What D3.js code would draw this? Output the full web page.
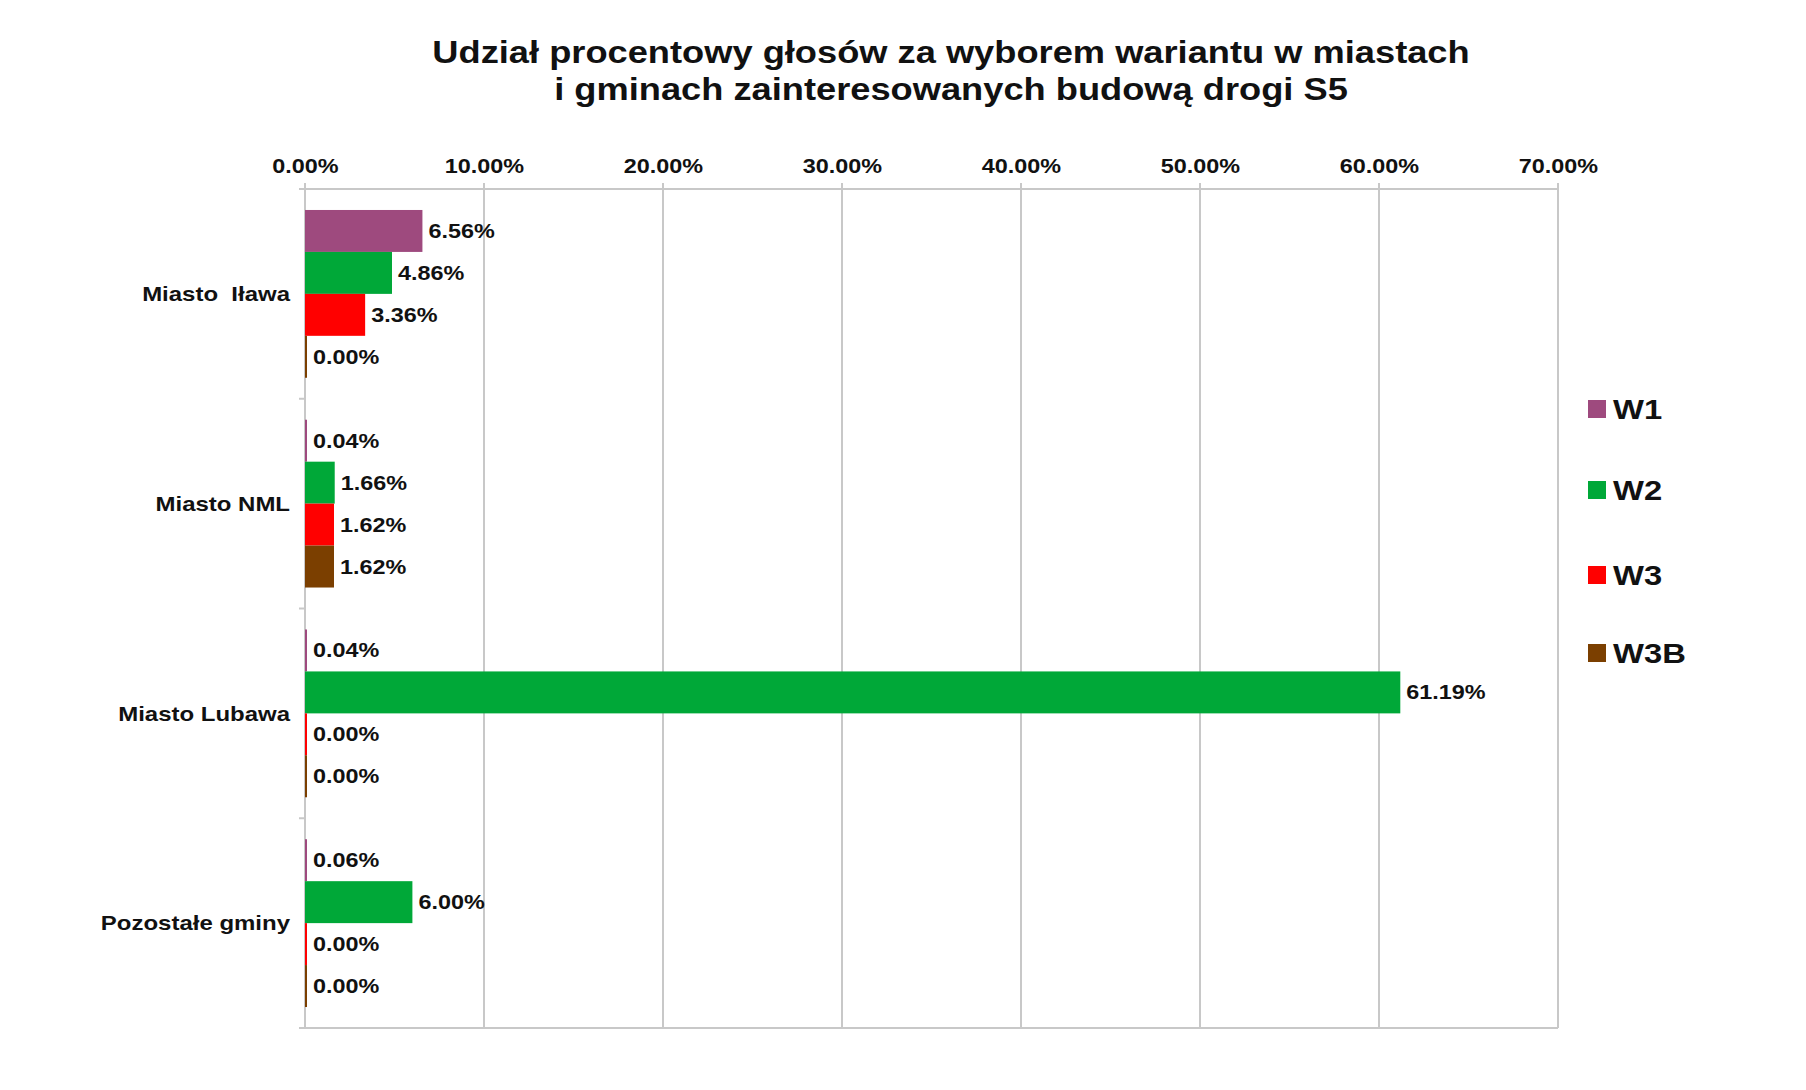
<!DOCTYPE html>
<html>
<head>
<meta charset="utf-8">
<script src="https://cdn.jsdelivr.net/npm/d3@7"></script>
<style>
  html, body { margin: 0; padding: 0; background: #fff; }
  svg { display: block; font-family: "Liberation Sans", Arial, sans-serif; }
</style>
</head>
<body>
<svg id="chart" width="1806" height="1090"></svg>
<script>
// ---- data ----
const titleLines = ["Udział procentowy głosów za wyborem wariantu w miastach", "i gminach zainteresowanych budową drogi S5"];
const categories = ["Miasto  Iława", "Miasto NML", "Miasto Lubawa", "Pozostałe gminy"];
const seriesNames = ["W1", "W2", "W3", "W3B"];
const seriesColors = ["#9E4A7E", "#00A838", "#FF0000", "#7B3F00"];
const W1 = [6.56, 0.04, 0.04, 0.06];
const W2 = [4.86, 1.66, 61.19, 6.00];
const W3 = [3.36, 1.62, 0.00, 0.00];
const W3B = [0.00, 1.62, 0.00, 0.00];
const xTicks = [0, 10, 20, 30, 40, 50, 60, 70];

const seriesValues = [W1, W2, W3, W3B];

// ---- layout ----
const SX = 1.17; // horizontal text stretch seen in the reference
const svg = d3.select("#chart");
const plot = { left: 305, right: 1558, top: 189, bottom: 1028 };

const x = d3.scaleLinear().domain([0, 70]).range([plot.left, plot.right]);
const y0 = d3.scaleBand().domain(categories).range([plot.top, plot.bottom]).paddingInner(0).paddingOuter(0);
const y1 = d3.scaleBand().domain(seriesNames).range([0, y0.bandwidth()]).paddingOuter(0.5).paddingInner(0);

const place = (px, py, sx = SX) => `translate(${px},${py}) scale(${sx},1)`;

// title
svg.append("g").selectAll("text").data(titleLines).join("text")
  .attr("transform", (d, i) => place(951, 63 + i * 37))
  .attr("text-anchor", "middle")
  .attr("font-size", 31).attr("font-weight", "bold").attr("fill", "#111")
  .text(d => d);

// gridlines
const grid = "#c8c8c8";
svg.append("g").selectAll("line").data(xTicks).join("line")
  .attr("x1", d => x(d)).attr("x2", d => x(d))
  .attr("y1", plot.top - 6).attr("y2", plot.bottom)
  .attr("stroke", grid).attr("stroke-width", 2);

// top axis line
svg.append("line").attr("x1", plot.left - 6).attr("x2", plot.right)
  .attr("y1", plot.top).attr("y2", plot.top).attr("stroke", grid).attr("stroke-width", 2);
// bottom axis line
svg.append("line").attr("x1", plot.left - 6).attr("x2", plot.right)
  .attr("y1", plot.bottom).attr("y2", plot.bottom).attr("stroke", grid).attr("stroke-width", 2);

// x axis tick labels (top)
const xAxis = d3.axisTop(x).tickValues(xTicks).tickSize(0).tickPadding(16)
  .tickFormat(d => d3.format(".2f")(d) + "%");
const gx = svg.append("g").attr("transform", `translate(0,${plot.top})`).call(xAxis);
gx.select(".domain").remove();
gx.selectAll("text").attr("font-size", 20).attr("font-weight", "bold").attr("fill", "#111")
  .attr("font-family", "Liberation Sans, Arial, sans-serif")
  .attr("transform", `scale(${SX},1)`);

// category axis
const boundaries = categories.map(c => y0(c)).concat([plot.bottom]);
svg.append("g").selectAll("line").data(boundaries).join("line")
  .attr("x1", plot.left - 6).attr("x2", plot.left)
  .attr("y1", d => d).attr("y2", d => d).attr("stroke", grid).attr("stroke-width", 2);
svg.append("line").attr("x1", plot.left).attr("x2", plot.left)
  .attr("y1", plot.top).attr("y2", plot.bottom).attr("stroke", grid).attr("stroke-width", 2);

svg.append("g").selectAll("text").data(categories).join("text")
  .attr("transform", d => place(plot.left - 15, y0(d) + y0.bandwidth() / 2))
  .attr("dy", "0.35em")
  .attr("text-anchor", "end")
  .attr("font-size", 20.5).attr("font-weight", "bold").attr("fill", "#111")
  .style("white-space", "pre")
  .text(d => d);

// bars
const barData = [];
categories.forEach((c, ci) => {
  seriesNames.forEach((s, si) => {
    barData.push({ cat: c, series: s, color: seriesColors[si], value: seriesValues[si][ci] });
  });
});

const gBars = svg.append("g");
gBars.selectAll("rect").data(barData).join("rect")
  .attr("x", x(0))
  .attr("y", d => y0(d.cat) + y1(d.series))
  .attr("width", d => Math.max(2, x(d.value) - x(0)))
  .attr("height", y1.bandwidth())
  .attr("fill", d => d.color);

gBars.selectAll("text").data(barData).join("text")
  .attr("transform", d => place(Math.max(x(d.value), x(0) + 2) + 6, y0(d.cat) + y1(d.series) + y1.bandwidth() / 2))
  .attr("dy", "0.35em")
  .attr("font-size", 20).attr("font-weight", "bold").attr("fill", "#111")
  .text(d => d3.format(".2f")(d.value) + "%");

// legend
const legendY = [409, 490, 575, 653];
const gl = svg.append("g");
seriesNames.forEach((s, i) => {
  gl.append("rect").attr("x", 1588).attr("y", legendY[i] - 9).attr("width", 18).attr("height", 18)
    .attr("fill", seriesColors[i]);
  gl.append("text").attr("transform", place(1613, legendY[i])).attr("dy", "0.35em")
    .attr("font-size", 28).attr("font-weight", "bold").attr("fill", "#111").text(s);
});
</script>
</body>
</html>
